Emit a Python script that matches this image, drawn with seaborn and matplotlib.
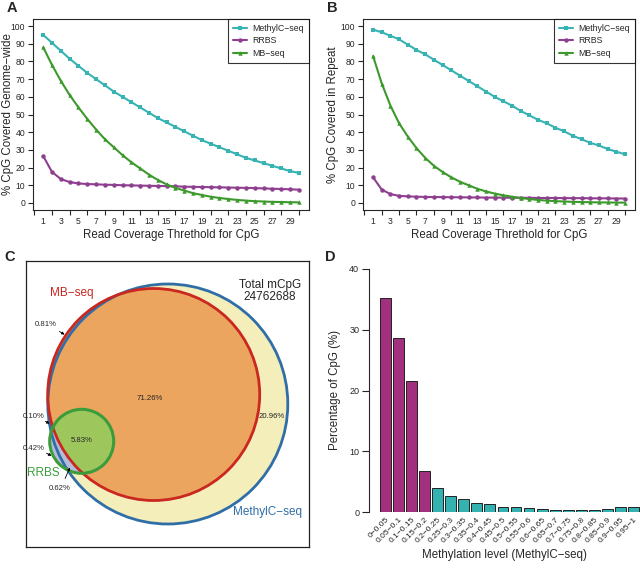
import numpy as np
import pandas as pd
import seaborn as sns
import matplotlib.pyplot as plt
from matplotlib.patches import Circle

sns.set_style("ticks")
plt.rcParams['font.family'] = ['Liberation Sans', 'DejaVu Sans']

# Coverage threshold data (panels A and B)
threshold = list(range(1, 31))
methylc_genome = [95, 90.5, 86, 81.5, 77.5, 73.5, 70, 66.5, 63, 60, 57, 54, 51, 48, 45.5,
                  43, 40.5, 38, 35.5, 33.5, 31.5, 29.5, 27.5, 25.5, 24, 22.5, 21, 19.5, 18, 17]
rrbs_genome = [26.5, 17.5, 13.5, 11.8, 11, 10.7, 10.5, 10.3, 10.2, 10, 9.9, 9.8, 9.7, 9.6, 9.5,
               9.4, 9.2, 9.1, 9.0, 8.9, 8.8, 8.7, 8.6, 8.5, 8.4, 8.2, 8.0, 7.9, 7.7, 7.5]
mbseq_genome = [88, 78, 69, 61, 54, 47.5, 41.5, 36, 31.5, 27, 23, 19.5, 16, 13, 10.5,
                8.5, 7, 5.5, 4.5, 3.5, 2.8, 2.2, 1.7, 1.3, 1.0, 0.8, 0.6, 0.5, 0.4, 0.3]
methylc_repeat = [98, 96.5, 94.5, 92.5, 89.5, 86.5, 84, 81, 78, 75, 72, 69, 66, 63, 60,
                  57.5, 55, 52, 49.5, 47, 45, 42.5, 40.5, 38, 36, 34, 32.5, 30.5, 29, 27.5]
rrbs_repeat = [14.5, 7.5, 5, 4, 3.7, 3.5, 3.4, 3.3, 3.3, 3.2, 3.2, 3.1, 3.1, 3.0, 3.0,
               3.0, 2.9, 2.9, 2.9, 2.8, 2.8, 2.8, 2.7, 2.7, 2.7, 2.6, 2.6, 2.6, 2.5, 2.5]
mbseq_repeat = [83, 67.5, 55, 45, 37.5, 31, 25.5, 21, 17.5, 14.5, 12, 10, 8, 6.5, 5.3,
                4.3, 3.5, 2.8, 2.2, 1.7, 1.3, 1.0, 0.8, 0.6, 0.5, 0.4, 0.3, 0.25, 0.2, 0.15]
methods = ['MethylC−seq', 'RRBS', 'MB−seq']

# Venn data (panel C)
venn_labels = ['71.26%', '20.96%', '5.83%', '0.81%', '0.10%', '0.42%', '0.62%']
total_mcpg = 24762688

# Methylation level distribution (panel D)
meth_bins = ['0−0.05', '0.05−0.1', '0.1−0.15', '0.15−0.2', '0.2−0.25', '0.25−0.3', '0.3−0.35',
             '0.35−0.4', '0.4−0.45', '0.45−0.5', '0.5−0.55', '0.55−0.6', '0.6−0.65', '0.65−0.7',
             '0.7−0.75', '0.75−0.8', '0.8−0.85', '0.85−0.9', '0.9−0.95', '0.95−1']
meth_pct = [35.3, 28.6, 21.5, 6.7, 4.0, 2.7, 2.1, 1.5, 1.3, 0.8, 0.9, 0.6, 0.5, 0.4,
            0.4, 0.4, 0.4, 0.5, 0.8, 0.8]
meth_group = ['low'] * 4 + ['high'] * 16

palette = {'MethylC−seq': '#38B3B3', 'RRBS': '#8F3F8F', 'MB−seq': '#3C9A2C'}
markers = {'MethylC−seq': 's', 'RRBS': 'o', 'MB−seq': '^'}

W, H = 640, 570
fig = plt.figure(figsize=(6.4, 5.7), dpi=100)


def px_axes(l, t, r, b):
    return fig.add_axes([l / W, 1 - b / H, (r - l) / W, (b - t) / H])


def coverage_panel(ax, mc, rr, mb, ylabel, ylab_x):
    df = pd.DataFrame({
        'threshold': threshold * 3,
        'pct': mc + rr + mb,
        'method': [m for m in methods for _ in threshold],
    })
    sns.lineplot(data=df, x='threshold', y='pct', hue='method', style='method',
                 palette=palette, markers=markers, dashes=False, markersize=3.2,
                 markeredgewidth=0, linewidth=1.5, ax=ax)
    ax.set_xlim(-0.16, 31.16)
    ax.set_ylim(-4, 104)
    ax.set_yticks(range(0, 101, 10))
    ax.set_xticks(range(1, 30, 2))
    ax.set_xticks(range(0, 31, 2), minor=True)
    ax.tick_params(axis='x', which='major', length=0, labelsize=6.2, pad=5)
    ax.tick_params(axis='x', which='minor', length=3.5, width=0.8)
    ax.tick_params(axis='y', length=3.5, width=0.8, labelsize=6.2, pad=2)
    for s in ax.spines.values():
        s.set_linewidth(0.8)
    ax.set_xlabel('Read Coverage Threthold for CpG', fontsize=8.3, labelpad=2)
    ax.set_ylabel(ylabel, fontsize=8.3)
    ax.yaxis.set_label_coords(ylab_x, 0.5)
    h, l = ax.get_legend_handles_labels()
    leg = ax.legend(h, l, loc='upper right', fontsize=6.3, frameon=True, fancybox=False,
                    borderaxespad=0, handlelength=1.7, labelspacing=0.42, borderpad=0.55,
                    handletextpad=0.6)
    leg.get_frame().set_edgecolor('black')
    leg.get_frame().set_linewidth(0.8)


axA = px_axes(33, 19, 309, 210)
coverage_panel(axA, methylc_genome, rrbs_genome, mbseq_genome,
               '% CpG Covered Genome−wide', -0.068)
axB = px_axes(363, 19, 635, 210)
coverage_panel(axB, methylc_repeat, rrbs_repeat, mbseq_repeat,
               '% CpG Covered in Repeat', -0.088)

# Panel C: Venn diagram
axC = px_axes(26, 261, 309, 547)
axC.set_xlim(0, 283)
axC.set_ylim(0, 286)
axC.set_xticks([])
axC.set_yticks([])
for s in axC.spines.values():
    s.set_linewidth(0.9)
    s.set_color('#222222')
blue_c, red_c, green_c = (141.8, 143), (127.7, 152.5), (55.7, 105.7)
axC.add_patch(Circle(blue_c, 120, facecolor='#F3EEBA', edgecolor='none', zorder=1))
red_fill = Circle(red_c, 106, facecolor='#EBA55F', edgecolor='none', zorder=2)
axC.add_patch(red_fill)
axC.add_patch(Circle(green_c, 32, facecolor='#B6BBDA', edgecolor='none', zorder=3))
gfill = Circle(green_c, 32, facecolor='#9DC75C', edgecolor='none', zorder=4)
axC.add_patch(gfill)
gfill.set_clip_path(red_fill)
axC.add_patch(Circle(blue_c, 120, facecolor='none', edgecolor='#2F6EA6', lw=2.0, zorder=5))
axC.add_patch(Circle(red_c, 106, facecolor='none', edgecolor='#C9271F', lw=2.0, zorder=6))
axC.add_patch(Circle(green_c, 32, facecolor='none', edgecolor='#3C9C3C', lw=2.2, zorder=7))

venn_pos = [(124, 148), (246, 130), (56, 106), (20, 222), (8, 131), (8, 99), (34, 59)]
arrows = [None, None, None, ((31, 217), (41, 211)), ((17, 127), (26, 122)),
          ((18, 95), (28, 90)), ((38, 66), (45, 82))]
for lab, pos, arr in zip(venn_labels, venn_pos, arrows):
    axC.text(pos[0], pos[1], lab, fontsize=5.6, ha='center', va='center', zorder=10)
    if arr is not None:
        axC.annotate('', xy=arr[1], xytext=arr[0], zorder=10,
                     arrowprops=dict(arrowstyle='-|>', lw=0.6, color='black',
                                     mutation_scale=4))
axC.text(46, 254, 'MB−seq', color='#C9271F', fontsize=8.5, ha='center', va='center')
axC.text(17, 74, 'RRBS', color='#3C9C3C', fontsize=8.5, ha='center', va='center')
axC.text(242, 35, 'MethylC−seq', color='#2F6EA6', fontsize=8.5, ha='center', va='center')
axC.text(244, 256, f'Total mCpG\n{total_mcpg}', fontsize=8.5, ha='center', va='center',
         linespacing=1.0)

# Panel D: methylation level bars
axD = px_axes(369, 269, 640, 512)
sns.barplot(x=meth_bins, y=meth_pct, hue=meth_group, palette={'low': '#A3307F', 'high': '#34B1B1'},
            dodge=False, width=0.83, edgecolor='#222222', linewidth=0.7, legend=False,
            saturation=1, ax=axD)
axD.set_xlim(-1.26, 19.5)
axD.set_ylim(0, 40)
axD.set_yticks(range(0, 41, 10))
axD.tick_params(axis='y', length=5, width=0.8, labelsize=6.5, pad=2)
axD.tick_params(axis='x', length=0, labelsize=6.0, pad=3)
plt.setp(axD.get_xticklabels(), rotation=45, ha='right', rotation_mode='anchor')
for side in ['top', 'right', 'bottom']:
    axD.spines[side].set_visible(False)
axD.spines['left'].set_bounds(0, 40)
axD.spines['left'].set_linewidth(0.8)
axD.set_xlabel('Methylation level (MethylC−seq)', fontsize=8.3, labelpad=3)
axD.set_ylabel('Percentage of CpG (%)', fontsize=8.3)
axD.yaxis.set_label_coords(-0.103, 0.5)

for lab, (x, y) in zip('ABCD', [(12, 8), (332, 8), (10, 257), (330, 257)]):
    fig.text(x / W, 1 - y / H, lab, fontsize=10.5, fontweight='bold', ha='center', va='center')

fig.savefig('out.png', dpi=100)
